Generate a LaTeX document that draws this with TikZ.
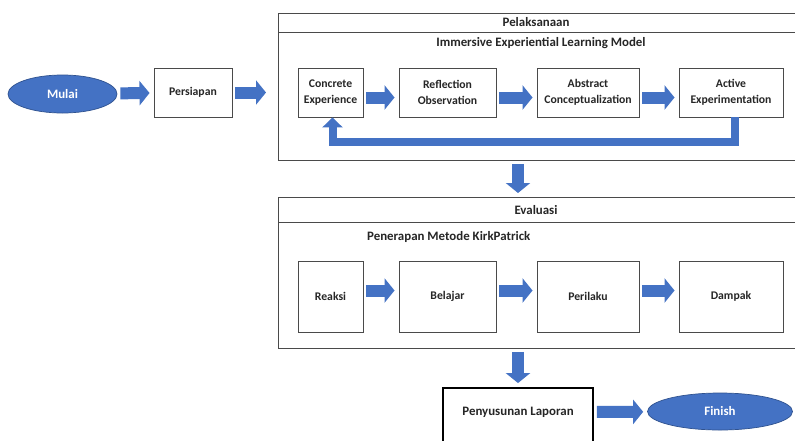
\documentclass[tikz,border=0pt]{standalone}
\usepackage{fontspec}
\setmainfont{Carlito}
\usetikzlibrary{arrows.meta,shapes.geometric,calc}
\definecolor{ppblue}{HTML}{4472C4}
\definecolor{ppedge}{HTML}{2F528F}
\definecolor{boxgray}{HTML}{4A4A4A}

\tikzset{
  txt/.style={font=\bfseries\fontsize{11}{13}\selectfont, text=black!85},
  box/.style={font=\bfseries\fontsize{10}{14}\selectfont, text=black!85, draw=boxgray,
    line width=0.8pt, align=center, fill=white, inner sep=1pt},
  frame/.style={draw=boxgray, line width=0.8pt, anchor=north west, minimum width=15.66cm, inner sep=0pt},
  startend/.style={ellipse, draw=ppedge, line width=0.6pt, fill=ppblue, text=white,
    font=\bfseries\fontsize{11}{13}\selectfont, inner sep=0pt},
  flow/.style={ppblue, line width=0.36cm, -{Triangle[length=0.3cm, width=0.72cm]},
    shorten <=0.09cm, shorten >=0.12cm},
  back/.style={ppblue, line width=0.24cm, -{Triangle[length=0.3cm, width=0.6cm]}},
}

\begin{document}
\begin{tikzpicture}[x=0.03cm, y=-0.03cm]
  \clip (0,0) rectangle (795,440);
  \fill[white] (0,0) rectangle (795,440);

  %%%%% start and preparation %%%%%
  \node[startend, minimum width=3.27cm, minimum height=1.14cm] (mulai) at (62.5,94) {Mulai};
  \node[box, minimum width=2.34cm, minimum height=1.47cm] (persiapan) at (193,92.5) {Persiapan};

  %%%%% Pelaksanaan %%%%%
  \node[frame, minimum height=4.41cm] (pelaksanaan) at (278,13) {};
  \draw[draw=boxgray, line width=0.8pt] ($(pelaksanaan.north west)+(0,19)$) -- ($(pelaksanaan.north east)+(0,19)$);
  \node[txt] (pelaksanaanlbl) at (536,22.5) {Pelaksanaan};
  \node[txt] (ielm) at (541,43) {Immersive Experiential Learning Model};

  \node[box, minimum width=1.95cm, minimum height=1.47cm] (ce) at (330.5,92.5) {Concrete\\Experience};
  \node[box, minimum width=2.91cm, minimum height=1.47cm] (ro) at (447.5,92.5) {Reflection\\Observation};
  \node[box, minimum width=3.06cm, minimum height=1.47cm] (ac) at (588,92.5) {Abstract\\Conceptualization};
  \node[box, minimum width=3.12cm, minimum height=1.47cm] (ae) at (731,92.5) {Active\\Experimentation};

  %%%%% Evaluasi %%%%%
  \node[frame, minimum height=4.53cm] (evaluasi) at (278,197) {};
  \draw[draw=boxgray, line width=0.8pt] ($(evaluasi.north west)+(0,25)$) -- ($(evaluasi.north east)+(0,25)$);
  \node[txt] (evaluasilbl) at (536,210) {Evaluasi};
  \node[txt, anchor=west] (kirk) at (363,237) {Penerapan Metode KirkPatrick};

  \node[box, minimum width=1.95cm, minimum height=2.13cm] (reaksi) at (330.5,296.5) {Reaksi};
  \node[box, minimum width=2.91cm, minimum height=2.13cm] (belajar) at (447.5,296.5) {Belajar};
  \node[box, minimum width=3.06cm, minimum height=2.13cm] (perilaku) at (588,296.5) {Perilaku};
  \node[box, minimum width=3.12cm, minimum height=2.13cm] (dampak) at (731,296.5) {Dampak};

  %%%%% report and finish %%%%%
  \node[box, draw=black, line width=1.6pt, minimum width=4.5cm, minimum height=1.8cm] (laporan) at (518,418) {};
  \node[txt] (laporanlbl) at (518,412) {Penyusunan Laporan};
  \node[startend, minimum width=4.35cm, minimum height=1.11cm] (finish) at (720,411.5) {Finish};

  %%%%% arrows %%%%%
  \draw[flow] (mulai) -- (persiapan);
  \draw[flow, shorten >=0.36cm] (persiapan.east) -- (persiapan.east -| pelaksanaan.west);
  \draw[flow, transform canvas={yshift=-0.15cm}] (ce) -- (ro);
  \draw[flow, transform canvas={yshift=-0.15cm}] (ro) -- (ac);
  \draw[flow, transform canvas={yshift=-0.15cm}] (ac) -- (ae);
  \draw[back] ($(ae.south)+(4,0)$) -- ++(0,25) -| ($(ce.south)+(2,0)$);
  \draw[flow] (laporan.north |- pelaksanaan.south) -- (laporan.north |- evaluasi.north);
  \draw[flow, transform canvas={yshift=0.18cm}] (reaksi) -- (belajar);
  \draw[flow, transform canvas={yshift=0.18cm}] (belajar) -- (perilaku);
  \draw[flow, transform canvas={yshift=0.18cm}] (perilaku) -- (dampak);
  \draw[flow] (laporan.north |- evaluasi.south) -- (laporan.north);
  \draw[flow] (laporan.east |- laporanlbl) -- (finish);
\end{tikzpicture}
\end{document}
